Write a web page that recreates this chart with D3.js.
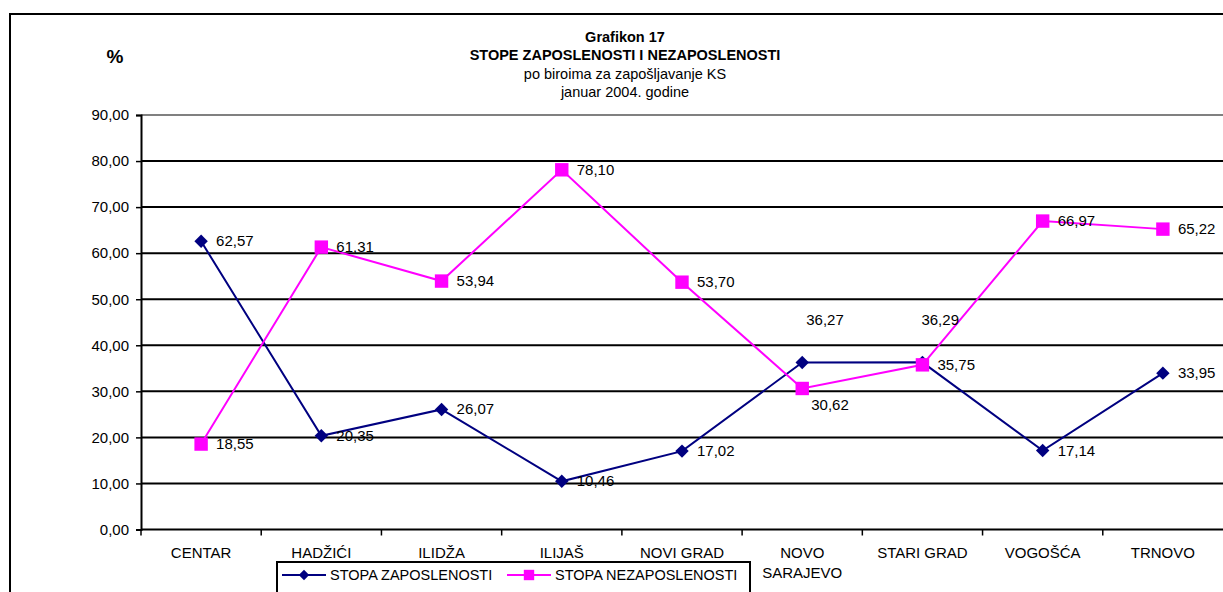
<!DOCTYPE html>
<html>
<head>
<meta charset="utf-8">
<script src="https://cdn.jsdelivr.net/npm/d3@7"></script>
<style>
  body { margin: 0; background: #fff; }
  svg { display: block; font-family: "Liberation Sans", Arial, sans-serif; }
</style>
</head>
<body>
<div id="container"></div>
<script>
// categories (bureaus) and the two rates, in percent
const categories = ["CENTAR", "HADŽIĆI", "ILIDŽA", "ILIJAŠ", "NOVI GRAD", "NOVO SARAJEVO", "STARI GRAD", "VOGOŠĆA", "TRNOVO"];
const zaposlenost = [62.57, 20.35, 26.07, 10.46, 17.02, 36.27, 36.29, 17.14, 33.95];
const nezaposlenost = [18.55, 61.31, 53.94, 78.10, 53.70, 30.62, 35.75, 66.97, 65.22];
const yTicks = [0, 10, 20, 30, 40, 50, 60, 70, 80, 90];
const titleLines = ["Grafikon 17", "STOPE ZAPOSLENOSTI I NEZAPOSLENOSTI", "po biroima za zapošljavanje KS", "januar 2004. godine"];

const width = 1223, height = 592;
const margin = {left: 141, right: 0, top: 115, bottom: 62};
const fs = 15;

const svg = d3.select("#container").append("svg")
  .attr("width", width)
  .attr("height", height);

// outer chart frame (runs off the right and bottom edges)
svg.append("rect")
  .attr("x", 10).attr("y", 14)
  .attr("width", width + 20).attr("height", height + 20)
  .attr("fill", "none").attr("stroke", "#000").attr("stroke-width", 2);

const x = d3.scaleBand()
  .domain(categories)
  .range([margin.left, width - margin.right]);

const y = d3.scaleLinear()
  .domain([0, 90])
  .range([height - margin.bottom - 0.5, margin.top]);

const fmt = v => d3.format(".2f")(v).replace(".", ",");

// grid lines
svg.append("g")
  .selectAll("line")
  .data(yTicks.filter(d => d > 0))
  .join("line")
  .attr("x1", margin.left).attr("x2", width)
  .attr("y1", d => y(d)).attr("y2", d => y(d))
  .attr("stroke", d => d === 90 ? "#808080" : "#000")
  .attr("stroke-width", 2);

// y axis
const yAxis = svg.append("g")
  .attr("transform", `translate(${margin.left},0)`)
  .call(d3.axisLeft(y).tickValues(yTicks).tickFormat(fmt).tickSize(5).tickPadding(7));
yAxis.select(".domain").attr("stroke", "#000").attr("stroke-width", 2);
yAxis.selectAll(".tick line").attr("stroke", "#000").attr("stroke-width", 1.5);
yAxis.selectAll("text").attr("font-size", fs).attr("fill", "#000");

// x axis with ticks on band boundaries
const xAxisG = svg.append("g")
  .attr("transform", `translate(0,${y(0)})`);
xAxisG.append("line")
  .attr("x1", margin.left).attr("x2", width)
  .attr("stroke", "#000").attr("stroke-width", 2);
xAxisG.selectAll("line.tk")
  .data(categories)
  .join("line")
  .attr("class", "tk")
  .attr("x1", d => x(d)).attr("x2", d => x(d))
  .attr("y1", 0).attr("y2", 6)
  .attr("stroke", "#000").attr("stroke-width", 1.5);
xAxisG.selectAll("text")
  .data(categories)
  .join("text")
  .attr("text-anchor", "middle")
  .attr("font-size", fs)
  .attr("x", d => x(d) + x.bandwidth() / 2)
  .each(function(d) {
    const words = d === "NOVO SARAJEVO" ? ["NOVO", "SARAJEVO"] : [d];
    d3.select(this).selectAll("tspan")
      .data(words)
      .join("tspan")
      .attr("x", x(d) + x.bandwidth() / 2)
      .attr("y", (w, i) => 28 + i * 20)
      .text(w => w);
  });

// titles
svg.append("g")
  .selectAll("text")
  .data(titleLines)
  .join("text")
  .attr("x", 625)
  .attr("y", (d, i) => [42, 60, 79, 97][i])
  .attr("text-anchor", "middle")
  .attr("font-size", 14.5)
  .attr("font-weight", (d, i) => i < 2 ? "bold" : "normal")
  .text(d => d);

svg.append("text")
  .attr("x", 115).attr("y", 63)
  .attr("text-anchor", "middle")
  .attr("font-size", 19).attr("font-weight", "bold")
  .text("%");

const cx = i => x(categories[i]) + x.bandwidth() / 2;
const line = d3.line().x((d, i) => cx(i)).y(d => y(d));

const series = [
  {name: "STOPA ZAPOSLENOSTI", values: zaposlenost, color: "#000080", shape: d3.symbolSquare, size: 90, rotate: 45,
   labelMove: {5: [-11, -42], 6: [-16, -42]}},
  {name: "STOPA NEZAPOSLENOSTI", values: nezaposlenost, color: "#FF00FF", shape: d3.symbolSquare, size: 180, rotate: 0,
   labelMove: {5: [-6, 17]}}
];

series.forEach(s => {
  const g = svg.append("g");
  g.append("path")
    .datum(s.values)
    .attr("d", line)
    .attr("fill", "none")
    .attr("stroke", s.color)
    .attr("stroke-width", 2);
  g.selectAll("path.m")
    .data(s.values)
    .join("path")
    .attr("class", "m")
    .attr("transform", (d, i) => `translate(${cx(i)},${y(d)}) rotate(${s.rotate})`)
    .attr("d", d3.symbol(s.shape, s.size))
    .attr("fill", s.color);
});

// value labels (drawn after both series)
series.forEach(s => {
  svg.append("g")
    .selectAll("text")
    .data(s.values)
    .join("text")
    .attr("x", (d, i) => cx(i) + 15 + (s.labelMove[i] ? s.labelMove[i][0] : 0))
    .attr("y", (d, i) => y(d) + 5 + (s.labelMove[i] ? s.labelMove[i][1] : 0))
    .attr("font-size", fs)
    .attr("fill", "#000")
    .text(d => fmt(d));
});

// legend
const legend = svg.append("g").attr("transform", "translate(277,562)");
legend.append("rect")
  .attr("width", 473).attr("height", 40)
  .attr("fill", "#fff").attr("stroke", "#000").attr("stroke-width", 2);
const legendX = [5, 230];
series.forEach((s, i) => {
  const lg = legend.append("g").attr("transform", `translate(${legendX[i]},13)`);
  lg.append("line").attr("x1", 0).attr("x2", 44)
    .attr("stroke", s.color).attr("stroke-width", 2);
  lg.append("path")
    .attr("transform", `translate(22,0) rotate(${s.rotate})`)
    .attr("d", d3.symbol(s.shape, s.size * 0.6))
    .attr("fill", s.color);
  lg.append("text")
    .attr("x", 48).attr("y", 5)
    .attr("font-size", 14.5)
    .text(s.name);
});
</script>
</body>
</html>
